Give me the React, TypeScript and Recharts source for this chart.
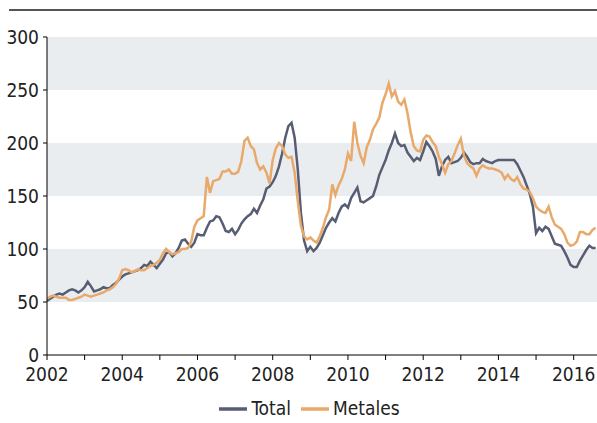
import React from 'react';
import { LineChart, Line, XAxis, YAxis, ReferenceArea, Legend } from 'recharts';

// monthly index values, Jan 2002 .. Aug 2016
const totalValues = [
  51, 53, 55, 57, 58, 57, 59, 61, 62, 61, 59, 61,
  64, 69, 65, 60, 61, 62, 64, 63, 63, 66, 68, 71,
  74, 76, 77, 78, 79, 80, 82, 85, 84, 88, 85, 82,
  86, 90, 96, 97, 93, 96, 101, 108, 109, 105, 102, 106,
  114, 113, 113, 120, 126, 127, 131, 130, 124, 117, 116, 119,
  114, 118, 124, 128, 131, 133, 138, 134, 141, 147, 157, 159,
  163, 169, 178, 190, 205, 216, 219, 205, 175, 134, 108, 98,
  102, 98, 101, 106, 113, 120, 125, 129, 126, 134, 140, 142,
  139, 148, 153, 158, 145, 144, 146, 148, 150, 159, 170, 177,
  184, 193, 200, 209, 200, 197, 198, 191, 187, 183, 186, 184,
  192, 201, 197, 192, 185, 169, 178, 184, 187, 181, 182, 183,
  186, 191, 187, 182, 180, 181, 181, 185, 183, 182, 181, 183,
  184, 184, 184, 184, 184, 184, 180, 174, 168, 160, 152, 140,
  115, 120, 117, 121, 119, 112, 105, 104, 103, 98, 92, 85,
  83, 83, 89, 94, 99, 103, 101, 101,
];

const metalesValues = [
  53, 55, 56, 55, 54, 54, 54, 52, 52, 53, 54, 55,
  57, 56, 55, 56, 57, 58, 59, 61, 62, 64, 67, 72,
  80, 81, 80, 78, 79, 81, 80, 80, 82, 84, 85, 87,
  90, 96, 100, 97, 95, 96, 97, 100, 100, 101, 107, 121,
  127, 129, 131, 168, 153, 164, 165, 166, 173, 173, 175, 171,
  171, 173, 183, 202, 205, 197, 194, 181, 175, 178, 172, 162,
  184, 195, 200, 197, 189, 186, 187, 172, 145, 122, 112, 109,
  111, 108, 106, 112, 120, 130, 137, 161, 151, 160, 166, 175,
  190, 183, 220, 200, 188, 181, 196, 203, 213, 218, 224, 238,
  246, 256, 244, 249, 239, 236, 241, 228, 210, 197, 193, 192,
  203, 207, 206, 201, 197, 187, 180, 172, 180, 183, 190, 198,
  204, 188, 181, 178, 176, 169, 176, 179, 177, 176, 176, 175,
  174, 172, 166, 170, 166, 164, 168, 161, 157, 156, 154, 148,
  140, 137, 135, 134, 140, 130, 123, 121, 119, 114, 106, 103,
  104, 107, 116, 116, 114, 114, 118, 120,
];

const startYear = 2002;
const yearTicks = [2002, 2003, 2004, 2005, 2006, 2007, 2008, 2009, 2010, 2011, 2012, 2013, 2014, 2015, 2016];
const valueTicks = [0, 50, 100, 150, 200, 250, 300];
const shadedBands = [[50, 100], [150, 200], [250, 300]];
const seriesOrder = ['Total', 'Metales'];

const data = totalValues.map((v, i) => ({
  t: startYear + i / 12,
  Total: v,
  Metales: metalesValues[i],
}));

const font = "'Liberation Sans Narrow', 'DejaVu Sans Condensed', 'Roboto', sans-serif";

const App: React.FC = () => {
  return (
    <div style={{ position: 'absolute', left: 0, top: 0, width: 597, height: 423, background: '#fff', fontFamily: font }}>
      <div style={{ position: 'absolute', left: 9, top: 9, width: 588, height: 0, borderTop: '2px solid #555' }} />
      <LineChart
        width={597}
        height={423}
        data={data}
        margin={{ top: 37, right: 0, left: 0, bottom: 0 }}
      >
        {shadedBands.map(([a, b]) => (
          <ReferenceArea key={a} y1={a} y2={b} fill="#eaedf0" fillOpacity={1} stroke="none" ifOverflow="visible" />
        ))}
        <XAxis
          dataKey="t"
          type="number"
          domain={[2002, 2016.62]}
          ticks={yearTicks}
          interval={0}
          tickFormatter={(v: number) => (v % 2 === 0 ? String(v) : '')}
          stroke="#000"
          tickSize={5}
          tickMargin={8}
          height={40}
          tick={{ fill: '#222', fontSize: 19, fontFamily: font }}
          allowDataOverflow
        />
        <YAxis
          domain={[0, 300]}
          ticks={valueTicks}
          interval={0}
          width={47}
          stroke="#000"
          tickSize={4}
          tickMargin={4}
          tick={{ fill: '#222', fontSize: 19, fontFamily: font }}
        />
        <Legend
          verticalAlign="bottom"
          align="center"
          iconType="plainline"
          iconSize={28}
          itemSorter={(item: any) => seriesOrder.indexOf(item.value)}
          wrapperStyle={{ fontSize: 19, fontFamily: font, color: '#222', left: 16 }}
          formatter={(value: string) => <span style={{ color: '#222' }}>{value}</span>}
        />
        <Line type="linear" dataKey="Total" stroke="#575d73" strokeWidth={2.5} dot={false} isAnimationActive={false} />
        <Line type="linear" dataKey="Metales" stroke="#e8a96a" strokeWidth={2.5} dot={false} isAnimationActive={false} />
      </LineChart>
    </div>
  );
};

export default App;
